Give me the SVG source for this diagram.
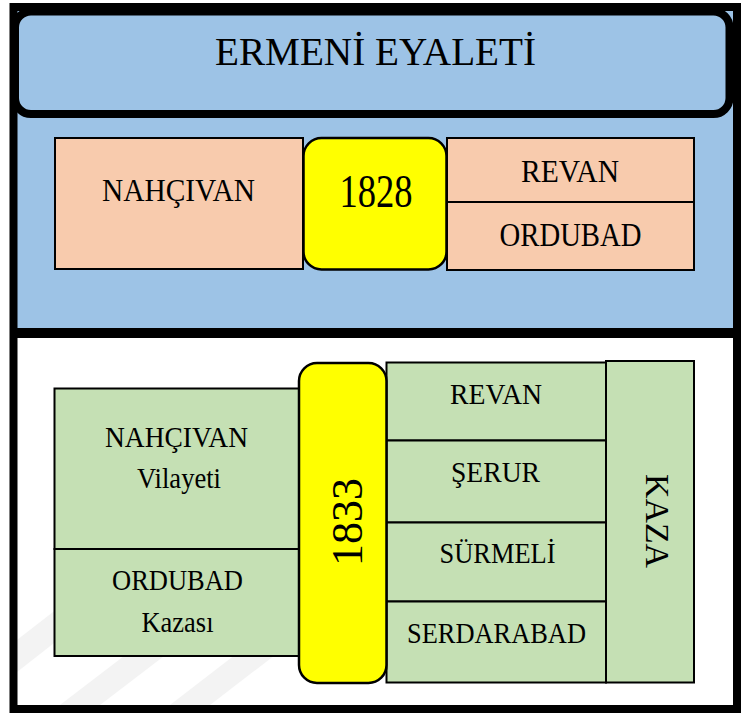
<svg xmlns="http://www.w3.org/2000/svg" width="741" height="713" viewBox="0 0 741 713">
<style>
text{font-family:"Liberation Serif","Times New Roman",serif;fill:#000;text-anchor:middle}
.peach{fill:#F8CBAD;stroke:#000;stroke-width:2}
.green{fill:#C5E0B4;stroke:#000;stroke-width:2}
.yel{fill:#FFFF00;stroke:#000;stroke-width:2.5}
</style>
<rect x="0" y="0" width="741" height="713" fill="#fff"/>
<g id="watermark" fill="#000" opacity="0.045">
<polygon points="17,640 120,560 160,560 17,672"/>
<polygon points="60,705 230,575 270,575 100,705"/>
<polygon points="170,705 300,605 340,605 210,705"/>
</g>
<rect x="17" y="11" width="716" height="317" fill="#9DC3E6"/>
<rect x="17" y="328" width="716" height="10" fill="#000"/>
<rect x="13.5" y="7" width="723.5" height="702" fill="none" stroke="#000" stroke-width="8"/>
<g id="header">
<rect x="15" y="11.5" width="714.5" height="102.5" rx="16" fill="#9DC3E6" stroke="#000" stroke-width="8"/>
<text x="375.5" y="65" font-size="41" textLength="321" lengthAdjust="spacingAndGlyphs">ERMENİ EYALETİ</text>
</g>
<g id="n1828-nahcivan">
<rect class="peach" x="55" y="138" width="248" height="131"/>
<text x="178.5" y="201" font-size="32" textLength="153" lengthAdjust="spacingAndGlyphs">NAHÇIVAN</text>
</g>
<g id="n1828-revan">
<rect class="peach" x="447" y="138" width="247" height="64"/>
<text x="570" y="181.5" font-size="32" textLength="98" lengthAdjust="spacingAndGlyphs">REVAN</text>
</g>
<g id="n1828-ordubad">
<rect class="peach" x="447" y="202" width="247" height="68"/>
<text x="570.5" y="246" font-size="33" textLength="142" lengthAdjust="spacingAndGlyphs">ORDUBAD</text>
</g>
<g id="n1828">
<rect class="yel" x="303.5" y="138" width="143" height="131.5" rx="18"/>
<text x="376" y="207" font-size="46" textLength="73" lengthAdjust="spacingAndGlyphs">1828</text>
</g>
<g id="n1833-nahcivan">
<rect class="green" x="54.5" y="388.5" width="246" height="160.5"/>
<text x="176.5" y="447" font-size="30" textLength="143" lengthAdjust="spacingAndGlyphs">NAHÇIVAN</text>
<text x="179" y="487.5" font-size="30" textLength="84" lengthAdjust="spacingAndGlyphs">Vilayeti</text>
</g>
<g id="n1833-ordubad">
<rect class="green" x="54.5" y="549" width="246" height="107"/>
<text x="177.5" y="590" font-size="30" textLength="131" lengthAdjust="spacingAndGlyphs">ORDUBAD</text>
<text x="177.5" y="631.5" font-size="30" textLength="72" lengthAdjust="spacingAndGlyphs">Kazası</text>
</g>
<g id="n1833-revan">
<rect class="green" x="386.5" y="362.5" width="219.5" height="78"/>
<text x="496" y="403.5" font-size="30" textLength="92" lengthAdjust="spacingAndGlyphs">REVAN</text>
</g>
<g id="n1833-serur">
<rect class="green" x="386.5" y="440.5" width="219.5" height="82"/>
<text x="495.5" y="482" font-size="30" textLength="89" lengthAdjust="spacingAndGlyphs">ŞERUR</text>
</g>
<g id="n1833-surmeli">
<rect class="green" x="386.5" y="522.5" width="219.5" height="79"/>
<text x="497.5" y="562.5" font-size="30" textLength="116" lengthAdjust="spacingAndGlyphs">SÜRMELİ</text>
</g>
<g id="n1833-serdarabad">
<rect class="green" x="386.5" y="601.5" width="219.5" height="81"/>
<text x="496.5" y="643" font-size="30" textLength="179" lengthAdjust="spacingAndGlyphs">SERDARABAD</text>
</g>
<g id="kaza">
<rect class="green" x="606" y="361" width="88" height="321.5"/>
<text transform="translate(645.5,521) rotate(90)" font-size="33" textLength="94" lengthAdjust="spacingAndGlyphs">KAZA</text>
</g>
<g id="n1833">
<rect class="yel" x="299" y="363" width="87.5" height="320" rx="18"/>
<text transform="translate(361.5,522) rotate(-90)" font-size="45" textLength="88" lengthAdjust="spacingAndGlyphs">1833</text>
</g>
<g id="connectors"></g>
</svg>
